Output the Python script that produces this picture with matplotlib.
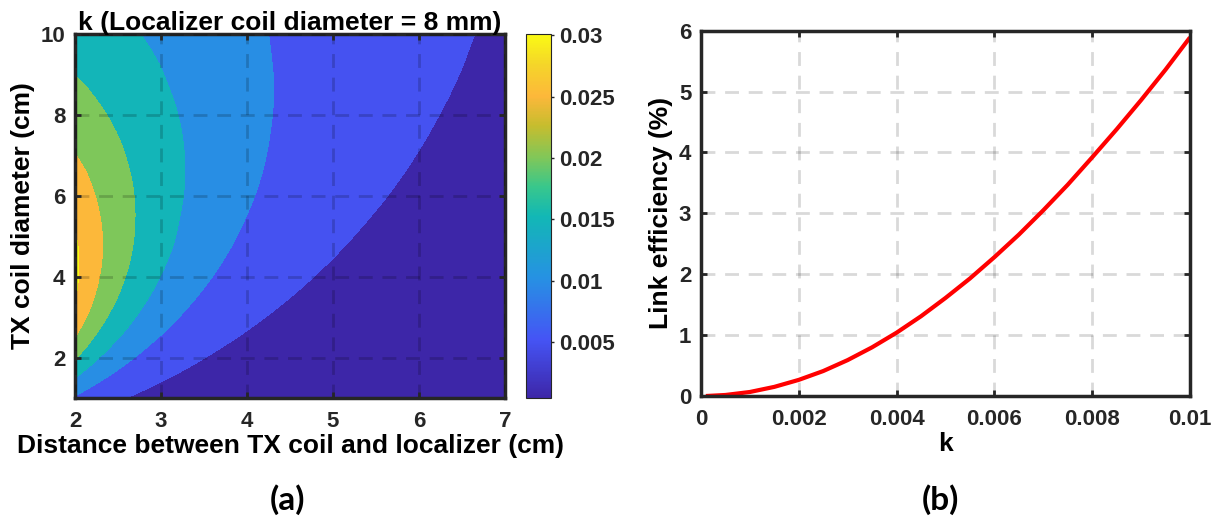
import numpy as np
import matplotlib
matplotlib.use("Agg")
import matplotlib.pyplot as plt
import matplotlib.tri as mtri
from matplotlib.colors import LinearSegmentedColormap, Normalize
from matplotlib.cm import ScalarMappable

plt.rcParams['font.family'] = ['Liberation Sans', 'DejaVu Sans']
plt.rcParams['font.weight'] = 'bold'

# (a) coupling coefficient k (x 1e-5), estimated from the contour map
dist_cm = [2, 2.25, 2.5, 2.75, 3, 3.5, 4, 4.5, 5, 5.5, 6, 6.5, 7]
tx_diam_cm = [1, 1.25, 1.5, 1.75, 2, 2.5, 3, 3.5, 4, 4.5, 5, 6, 7, 8, 9, 10]
k_e5 = [
    [945, 711, 550, 435, 351, 239, 171, 127, 98, 77, 62, 50, 42],
    [1218, 912, 701, 551, 441, 297, 210, 154, 117, 91, 72, 58, 48],
    [1503, 1126, 865, 678, 542, 362, 254, 185, 139, 108, 85, 68, 56],
    [1785, 1343, 1034, 812, 648, 432, 302, 220, 165, 127, 100, 80, 65],
    [2051, 1555, 1203, 947, 758, 506, 354, 257, 192, 148, 116, 93, 75],
    [2504, 1937, 1521, 1211, 976, 658, 463, 337, 252, 193, 151, 121, 98],
    [2826, 2237, 1788, 1444, 1178, 807, 573, 420, 316, 243, 191, 152, 123],
    [3016, 2444, 1992, 1634, 1351, 944, 680, 503, 381, 294, 232, 185, 151],
    [3094, 2564, 2130, 1776, 1489, 1064, 778, 582, 444, 346, 274, 220, 179],
    [3087, 2612, 2209, 1872, 1590, 1162, 864, 655, 505, 396, 316, 255, 208],
    [3022, 2604, 2239, 1926, 1659, 1239, 938, 720, 561, 444, 356, 289, 237],
    [2792, 2481, 2196, 1939, 1711, 1332, 1043, 824, 657, 529, 431, 354, 294],
    [2515, 2288, 2071, 1869, 1683, 1360, 1099, 891, 727, 596, 493, 411, 345],
    [2243, 2077, 1915, 1758, 1610, 1343, 1116, 927, 772, 646, 542, 458, 389],
    [1997, 1874, 1752, 1632, 1515, 1297, 1104, 938, 797, 678, 578, 495, 426],
    [1781, 1690, 1597, 1504, 1412, 1236, 1075, 931, 804, 695, 602, 522, 454],
]
k_levels = [0.005, 0.01, 0.015, 0.02, 0.025, 0.03]
cbar_labels = ['0.005', '0.01', '0.015', '0.02', '0.025', '0.03']

# (b) link efficiency vs k
k_vals = [0.0001, 0.0005, 0.001, 0.0015, 0.002, 0.0025, 0.003, 0.0035, 0.004, 0.0045, 0.005,
          0.0055, 0.006, 0.0065, 0.007, 0.0075, 0.008, 0.0085, 0.009, 0.0095, 0.01]
eff_pct = [0.0, 0.017, 0.066, 0.15, 0.265, 0.41, 0.59, 0.80, 1.04, 1.31, 1.61,
           1.93, 2.28, 2.65, 3.05, 3.47, 3.92, 4.38, 4.86, 5.36, 5.89]

# parula-like colour map
parula = LinearSegmentedColormap.from_list('parula_like', [
    (0.00, (0.24, 0.15, 0.66)),
    (0.16, (0.27, 0.33, 0.96)),
    (0.33, (0.15, 0.57, 0.89)),
    (0.50, (0.07, 0.72, 0.71)),
    (0.58, (0.22, 0.78, 0.55)),
    (0.66, (0.50, 0.78, 0.35)),
    (0.75, (0.78, 0.74, 0.18)),
    (0.83, (0.99, 0.72, 0.23)),
    (0.92, (0.96, 0.84, 0.16)),
    (1.00, (0.98, 0.98, 0.08)),
])

edge = '#262626'
FS = 16
LFS = 19

fig = plt.figure(figsize=(12.18, 5.29), dpi=100)
ax1 = fig.add_axes([0.0616, 0.2476, 0.353, 0.688])
cax = fig.add_axes([0.4319, 0.2476, 0.0205, 0.688])
ax2 = fig.add_axes([0.5755, 0.2514, 0.4015, 0.6906])

Z = np.array(k_e5) * 1e-5
zmin = Z.min()
norm = Normalize(vmin=zmin, vmax=0.0301)
band_colors = [parula(norm(v)) for v in [zmin] + k_levels]

# smooth contouring on a refined triangulation (log k)
X, Y = np.meshgrid(dist_cm, tx_diam_cm)
tri = mtri.Triangulation(X.ravel(), Y.ravel())
logk = np.log(Z.ravel())
interp = mtri.CubicTriInterpolator(tri, logk, kind='geom')
tri_f, logk_f = mtri.UniformTriRefiner(tri).refine_field(logk, triinterpolator=interp, subdiv=4)
log_levels = [-30] + list(np.log(k_levels)) + [5]
ax1.tricontourf(tri_f, logk_f, levels=log_levels, colors=band_colors)

ax1.set_xlim(2, 7)
ax1.set_ylim(1, 10)
ax1.set_xticks([2, 3, 4, 5, 6, 7])
ax1.set_yticks([2, 4, 6, 8, 10])
ax1.set_axisbelow(False)
ax1.grid(True, color='k', alpha=0.18, linewidth=2, linestyle=(0, (5, 3.5)))
ax1.set_title('k (Localizer coil diameter = 8 mm)', fontsize=LFS, fontweight='bold', pad=3)
ax1.set_xlabel('Distance between TX coil and localizer (cm)', fontsize=LFS, fontweight='bold', labelpad=2)
ax1.set_ylabel('TX coil diameter (cm)', fontsize=LFS, fontweight='bold', labelpad=4)

sm = ScalarMappable(norm=norm, cmap=parula)
cb = fig.colorbar(sm, cax=cax)
cb.set_ticks(k_levels)
cb.set_ticklabels(cbar_labels)
cb.outline.set_linewidth(0.8)
cb.outline.set_edgecolor(edge)
cax.tick_params(labelsize=FS, direction='out', length=2, width=1, pad=4, colors=edge)
for t in cax.get_yticklabels():
    t.set_fontweight('bold')

ax2.plot(k_vals, eff_pct, color='red', linewidth=3, solid_capstyle='butt')
ax2.set_xlim(0, 0.01)
ax2.set_ylim(0, 6)
ax2.set_xticks([0, 0.002, 0.004, 0.006, 0.008, 0.01])
ax2.set_xticklabels(['0', '0.002', '0.004', '0.006', '0.008', '0.01'])
ax2.set_yticks([0, 1, 2, 3, 4, 5, 6])
ax2.grid(True, color='k', alpha=0.15, linewidth=2, linestyle=(0, (5, 3.5)))
ax2.set_axisbelow(True)
ax2.set_xlabel('k', fontsize=LFS, fontweight='bold', labelpad=2)
ax2.set_ylabel('Link efficiency (%)', fontsize=LFS, fontweight='bold', labelpad=4)

for ax in (ax1, ax2):
    for s in ax.spines.values():
        s.set_linewidth(2.5)
        s.set_color(edge)
    ax.tick_params(direction='in', length=4, width=2, top=True, right=True,
                   labelsize=FS, colors=edge, pad=7)
    ax.tick_params(axis='x', pad=9)
    for t in ax.get_xticklabels() + ax.get_yticklabels():
        t.set_fontweight('bold')

fig.text(0.236, 0.055, '(a)', ha='center', va='center', fontsize=24,
         fontweight='bold', family=['Lato', 'DejaVu Sans'])
fig.text(0.772, 0.055, '(b)', ha='center', va='center', fontsize=24,
         fontweight='bold', family=['Lato', 'DejaVu Sans'])

fig.savefig('out.png', dpi=100)
